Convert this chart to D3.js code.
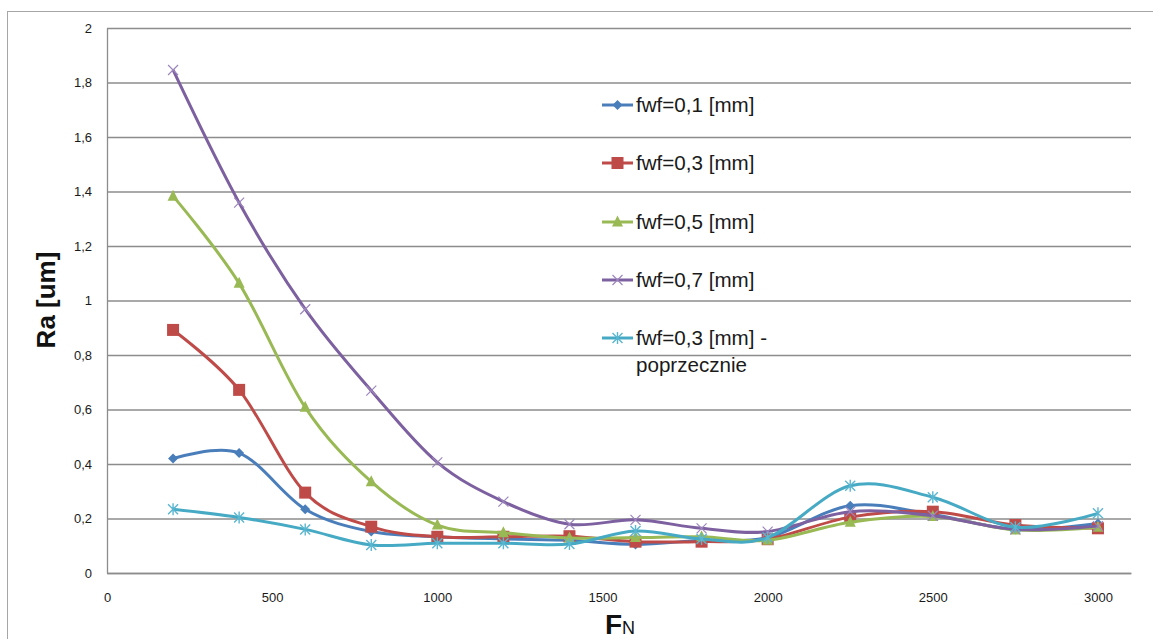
<!DOCTYPE html>
<html>
<head>
<meta charset="utf-8">
<script src="https://cdn.jsdelivr.net/npm/d3@7"></script>
<style>
  html, body { margin: 0; padding: 0; background: #fff; }
  svg { display: block; font-family: "Liberation Sans", Arial, sans-serif; }
</style>
</head>
<body>
<svg id="chart" width="1153" height="639"></svg>
<script>
// Normal force F_N (x) and roughness Ra [um] for each feed setting
const fn = [200, 400, 600, 800, 1000, 1200, 1400, 1600, 1800, 2000, 2250, 2500, 2750, 3000];
const ra01  = [0.420, 0.440, 0.234, 0.152, 0.133, 0.125, 0.120, 0.105, 0.120, 0.130, 0.247, 0.215, 0.160, 0.182];
const ra03  = [0.892, 0.672, 0.295, 0.170, 0.133, 0.133, 0.135, 0.115, 0.115, 0.124, 0.205, 0.225, 0.176, 0.164];
const ra05  = [1.383, 1.063, 0.608, 0.335, 0.176, 0.148, 0.128, 0.130, 0.133, 0.120, 0.186, 0.207, 0.158, 0.168];
const ra07  = [1.846, 1.359, 0.968, 0.669, 0.406, 0.262, 0.179, 0.195, 0.164, 0.152, 0.225, 0.210, 0.160, 0.172];
const ra03p = [0.234, 0.204, 0.160, 0.103, 0.109, 0.109, 0.106, 0.154, 0.125, 0.130, 0.320, 0.278, 0.168, 0.219];

const seriesNames = ["fwf=0,1 [mm]", "fwf=0,3 [mm]", "fwf=0,5 [mm]", "fwf=0,7 [mm]", "fwf=0,3 [mm] -"];
const seriesValues = [ra01, ra03, ra05, ra07, ra03p];
const seriesColors = ["#4a7ebb", "#be4b48", "#98b954", "#7d60a0", "#46aac5"];
const markerColors = ["#4a7ebb", "#be4b48", "#98b954", "#9c86bd", "#5bb6d0"];
const seriesMarkers = ["diamond", "square", "triangle", "cross", "star"];

const yTickValues = [0, 0.2, 0.4, 0.6, 0.8, 1, 1.2, 1.4, 1.6, 1.8, 2];
const yTickLabels = ["0", "0,2", "0,4", "0,6", "0,8", "1", "1,2", "1,4", "1,6", "1,8", "2"];
const xTickValues = [0, 500, 1000, 1500, 2000, 2500, 3000];

const svg = d3.select("#chart");

// chart frame
svg.append("rect")
  .attr("x", 7.5).attr("y", 11.5)
  .attr("width", 1200).attr("height", 700)
  .attr("fill", "none").attr("stroke", "#a6a6a6").attr("stroke-width", 1);

const plot = { left: 107, right: 1131, top: 28, bottom: 573 };

const x = d3.scaleLinear().domain([0, 3100]).range([plot.left, plot.right]);
const y = d3.scaleLinear().domain([0, 2]).range([plot.bottom, plot.top]);

// y axis with horizontal gridlines
const yAxis = svg.append("g")
  .attr("transform", `translate(${plot.left},0)`)
  .call(d3.axisLeft(y)
    .tickValues(yTickValues)
    .tickFormat((d, i) => yTickLabels[i])
    .tickSizeInner(-(plot.right - plot.left))
    .tickSizeOuter(0)
    .tickPadding(15));
yAxis.select(".domain").attr("stroke", "#8c8c8c").attr("stroke-width", 1.3);
yAxis.selectAll(".tick line").attr("stroke", "#8c8c8c").attr("stroke-width", 1.3);
yAxis.selectAll(".tick text")
  .attr("fill", "#1a1a1a").style("font-size", "13px")
  .style("font-family", "Liberation Sans, Arial, sans-serif");

// x axis
const xAxis = svg.append("g")
  .attr("transform", `translate(0,${plot.bottom})`)
  .call(d3.axisBottom(x)
    .tickValues(xTickValues)
    .tickFormat(d3.format("d"))
    .tickSize(0)
    .tickPadding(20));
xAxis.select(".domain").attr("stroke", "#8c8c8c").attr("stroke-width", 1.3);
xAxis.selectAll(".tick text")
  .attr("fill", "#1a1a1a").style("font-size", "13px")
  .style("font-family", "Liberation Sans, Arial, sans-serif");

// axis titles
svg.append("text")
  .attr("transform", "translate(55,300) rotate(-90)")
  .attr("text-anchor", "middle")
  .style("font-size", "26px").style("font-weight", "bold")
  .attr("fill", "#111")
  .text("Ra [um]");

const xt = svg.append("text")
  .attr("x", 605).attr("y", 634)
  .attr("fill", "#111").style("font-weight", "bold");
xt.append("tspan").style("font-size", "28px").text("F");
xt.append("tspan").style("font-size", "18px").style("font-weight", "normal").text("N");

// marker shapes
function drawMarker(g, type, color, cx, cy) {
  if (type === "diamond") {
    g.append("path").attr("d", `M${cx},${cy - 5}L${cx + 5},${cy}L${cx},${cy + 5}L${cx - 5},${cy}Z`)
      .attr("fill", color);
  } else if (type === "square") {
    g.append("rect").attr("x", cx - 6).attr("y", cy - 6).attr("width", 12).attr("height", 12)
      .attr("fill", color);
  } else if (type === "triangle") {
    g.append("path").attr("d", `M${cx},${cy - 6.5}L${cx + 5.5},${cy + 4.5}L${cx - 5.5},${cy + 4.5}Z`)
      .attr("fill", color);
  } else if (type === "cross") {
    g.append("path").attr("d", `M${cx - 5},${cy - 5}L${cx + 5},${cy + 5}M${cx - 5},${cy + 5}L${cx + 5},${cy - 5}`)
      .attr("stroke", color).attr("stroke-width", 1.2).attr("fill", "none");
  } else if (type === "star") {
    g.append("path").attr("d", `M${cx - 5},${cy - 5}L${cx + 5},${cy + 5}M${cx - 5},${cy + 5}L${cx + 5},${cy - 5}M${cx},${cy - 6}L${cx},${cy + 6}`)
      .attr("stroke", color).attr("stroke-width", 1.4).attr("fill", "none");
  }
}

// smoothed series lines with markers
const line = d3.line()
  .x(d => x(d[0]))
  .y(d => y(d[1]))
  .curve(d3.curveCatmullRom.alpha(0));

seriesValues.forEach((vals, s) => {
  const pts = fn.map((f, i) => [f, vals[i]]);
  const g = svg.append("g");
  g.append("path")
    .datum(pts)
    .attr("d", line)
    .attr("fill", "none")
    .attr("stroke", seriesColors[s])
    .attr("stroke-width", 3)
    .attr("stroke-linejoin", "round");
  pts.forEach(p => drawMarker(g, seriesMarkers[s], markerColors[s], x(p[0]), y(p[1])));
});

// legend
const legendY = [105, 163, 222, 280, 338];
const legend = svg.append("g");
seriesNames.forEach((name, s) => {
  const ly = legendY[s];
  legend.append("line")
    .attr("x1", 602).attr("x2", 633).attr("y1", ly).attr("y2", ly)
    .attr("stroke", seriesColors[s]).attr("stroke-width", 3);
  drawMarker(legend, seriesMarkers[s], markerColors[s], 617.5, ly);
  legend.append("text")
    .attr("x", 636).attr("y", ly).attr("dy", "0.35em")
    .style("font-size", "20.6px").attr("fill", "#1a1a1a")
    .text(name);
});
legend.append("text")
  .attr("x", 636).attr("y", 365).attr("dy", "0.35em")
  .style("font-size", "20.6px").attr("fill", "#1a1a1a")
  .text("poprzecznie");
</script>
</body>
</html>
